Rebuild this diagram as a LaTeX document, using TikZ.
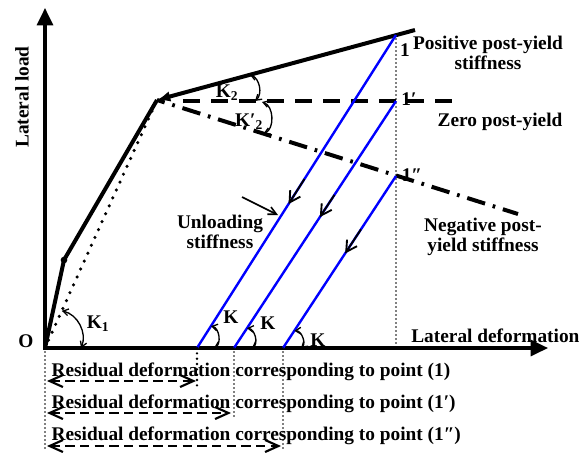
\documentclass[tikz,border=0pt]{standalone}
\usepackage{fontspec}
\setmainfont{Liberation Serif}
\usetikzlibrary{arrows.meta,calc,positioning}
\tikzset{axis/.style={line width=2.4pt, {Triangle[length=13pt,width=12pt]}-{Triangle[length=13pt,width=12pt]}}}
\tikzset{curve/.style={line width=3pt}}
\tikzset{unload/.style={line width=1.8pt, blue}}
\tikzset{unarrow/.style={line width=1.4pt, black, -{Straight Barb[length=8pt,width=9pt]}}}
\tikzset{karc/.style={line width=1pt, {Straight Barb[length=4pt,width=5pt]}-{Straight Barb[length=4pt,width=5pt]}}}
\tikzset{lbl/.style={font=\bfseries\fontsize{14.5}{15.5}\selectfont, inner sep=1pt}}
\tikzstyle{guide} = [line width=1.2pt, line cap=round, dash pattern=on 0pt off 3pt]
\tikzstyle{secant} = [line width=2.6pt, line cap=round, dash pattern=on 0pt off 6.5pt]
\tikzstyle{resid} = [line width=1.6pt, dash pattern=on 7pt off 4pt, {Straight Barb[length=10pt,width=9pt]}-{Straight Barb[length=10pt,width=9pt]}]
\begin{document}
\begin{tikzpicture}[x=0.75pt, y=-0.75pt]
\useasboundingbox (0,0) rectangle (582,455);
\coordinate (O) at (45,348);
\coordinate (Ytop) at (45,8);
\coordinate (Xend) at (548,348);
\coordinate (Kink) at (64,260);
\coordinate (Yld) at (157,100);
\coordinate (Pend) at (415,30);
\coordinate (Zst) at (183,101);
\coordinate (Zend) at (462,101);
\coordinate (Nend) at (518,214);
\coordinate (P1) at (396,35);
\coordinate (P1p) at (396,101);
\coordinate (P1pp) at (396,176);
\coordinate (P1x) at (396,348);
\coordinate (R1) at (197,348);
\coordinate (R2) at (234,348);
\coordinate (R3) at (283,348);
\coordinate (Kz) at (255,101);
\coordinate (Kzz) at (262,102);
\coordinate (UnlA) at (242,197);
\coordinate (UnlB) at (278,215);
\draw[axis] (Ytop) -- (O) -- (Xend);
\draw[secant] (O) -- (Yld);
\draw[curve] (O) -- (Kink) -- (Yld);
\fill (Kink) circle[radius=2.5pt];
\draw[curve, {Latex[length=10pt,width=8pt]}-] (Yld) -- (Pend);
\draw[line width=3pt, dash pattern=on 13pt off 8pt] (Zst) -- (Zend);
\draw[line width=3pt, dash pattern=on 14pt off 6pt on 2pt off 6pt, dash phase=8pt] (Yld) -- (Nend);
\draw[guide] (P1) -- (P1x);
\draw[unload] (P1) -- (R1);
\draw[unload] (P1p) -- (R2);
\draw[unload] (P1pp) -- (R3);
\draw[unarrow] ($(P1)!0.46!(R1)$) -- ($(P1)!0.54!(R1)$);
\draw[unarrow] ($(P1p)!0.38!(R2)$) -- ($(P1p)!0.47!(R2)$);
\draw[unarrow] ($(P1pp)!0.31!(R3)$) -- ($(P1pp)!0.45!(R3)$);
\draw[karc] ($(R1)!0.07!(P1)$) to[bend left=70] ($(R1)+(17,0)$);
\draw[karc] ($(R2)!0.08!(P1p)$) to[bend left=70] ($(R2)+(18,0)$);
\draw[karc] ($(R3)!0.1!(P1pp)$) to[bend left=70] ($(R3)+(18,0)$);
\draw[karc] ($(O)!0.15!(Yld)$) to[bend left=50] ($(O)+(36,0)$);
\draw[karc] ($(Yld)!0.36!(Pend)$) to[bend left=60] (Kz);
\draw[karc] (Kzz) to[bend left=70] ($(Yld)!0.295!(Nend)$);
\draw[line width=1.2pt, -{Straight Barb[length=6pt,width=6pt]}] (UnlA) -- (UnlB);
\node[lbl, rotate=90] (Ylab) at (22,97) {Lateral load};
\node[lbl] (Olab) at (26,341) {O};
\node[lbl, anchor=east] (Xlab) at (581,336) {Lateral deformation};
\node[lbl] (L1) at (405,50) {1};
\node[lbl] (L1p) at (409,99) {1′};
\node[lbl] (L1pp) at (412,175) {1″};
\node[lbl, align=center] (Pos) at (488,53) {Positive post-yield\\stiffness};
\node[lbl] (Zero) at (500,122) {Zero post-yield};
\node[lbl, align=center] (Neg) at (483,237) {Negative post-\\yield stiffness};
\node[lbl, align=center] (Unl) at (220,232) {Unloading\\stiffness};
\node[lbl] (K1) at (98,324) {K\textsubscript{1}};
\node[lbl] (K2) at (227,93) {K\textsubscript{2}};
\node[lbl] (K2p) at (249,122) {K′\textsubscript{2}};
\node[lbl] (Ka) at (231,317) {K};
\node[lbl] (Kb) at (268,323) {K};
\node[lbl] (Kc) at (318,340) {K};
\draw[guide] (O) -- (45,448);
\draw[guide, line width=2pt, dash pattern=on 0pt off 4pt] (R1) -- (197,386);
\draw[guide] (R2) -- (234,418);
\draw[guide] (R3) -- (283,449);
\node[lbl, anchor=base west] (Res1) at (50,376) {Residual deformation corresponding to point (1)};
\node[lbl, anchor=base west] (Res2) at (50,408) {Residual deformation corresponding to point (1′)};
\node[lbl, anchor=base west] (Res3) at (50,440) {Residual deformation corresponding to point (1″)};
\coordinate (A1s) at (47,381);
\coordinate (A1e) at (196,381);
\coordinate (A2s) at (47,413);
\coordinate (A2e) at (231,413);
\coordinate (A3s) at (47,446);
\coordinate (A3e) at (281,446);
\draw[resid] (A1s) -- (A1e);
\draw[resid] (A2s) -- (A2e);
\draw[resid] (A3s) -- (A3e);
\end{tikzpicture}
\end{document}
